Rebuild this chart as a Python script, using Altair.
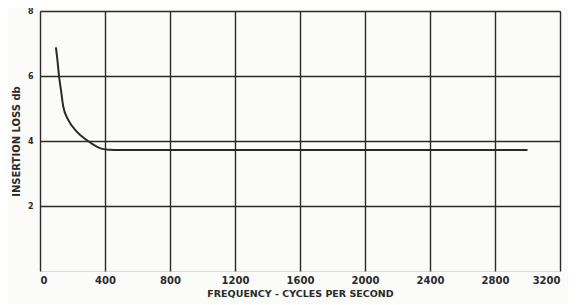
import altair as alt
import pandas as pd

freq = [98, 108, 117, 129, 143, 174, 226, 287, 349, 390, 430, 472, 800, 1600, 2400, 3000]
loss = [6.88, 6.45, 6.0, 5.57, 5.06, 4.65, 4.29, 4.03, 3.83, 3.75, 3.73, 3.72, 3.72, 3.72, 3.72, 3.72]

x_ticks = [0, 400, 800, 1200, 1600, 2000, 2400, 2800, 3200]
y_ticks = [2, 4, 6, 8]

df = pd.DataFrame({"freq": freq, "loss": loss})

ink = "#2a2a2a"

chart = alt.Chart(df).mark_line(
    color=ink, strokeWidth=2, interpolate="monotone"
).encode(
    x=alt.X("freq:Q", scale=alt.Scale(domain=[0, 3200], nice=False),
            axis=alt.Axis(values=x_ticks, format="d", title="FREQUENCY - CYCLES PER SECOND",
                          grid=True, gridColor=ink, gridWidth=1.4, gridOpacity=1,
                          domain=False, ticks=False,
                          labelFont="DejaVu Sans", labelFontWeight="bold", labelFontSize=10,
                          labelColor=ink, labelPadding=4,
                          titleFont="DejaVu Sans", titleFontWeight="bold", titleFontSize=9.5,
                          titleColor=ink, titlePadding=3)),
    y=alt.Y("loss:Q", scale=alt.Scale(domain=[0, 8], nice=False),
            axis=alt.Axis(values=y_ticks, format="d", title="INSERTION LOSS db",
                          grid=True, gridColor=ink, gridWidth=1.4, gridOpacity=1,
                          domain=False, ticks=False,
                          labelFont="DejaVu Sans", labelFontWeight="bold", labelFontSize=8,
                          labelColor=ink, labelPadding=7,
                          titleFont="DejaVu Sans", titleFontWeight="bold", titleFontSize=10,
                          titleColor=ink, titlePadding=6)),
).properties(
    width=520, height=260,
    autosize=alt.AutoSizeParams(type="none"),
    padding={"left": 32, "top": 3, "right": 8, "bottom": 33},
).configure_view(
    stroke=ink, strokeWidth=1.6
).configure(background="#fbfbf9")

chart.save("out.html", embed_options={"renderer": "svg", "actions": False})
